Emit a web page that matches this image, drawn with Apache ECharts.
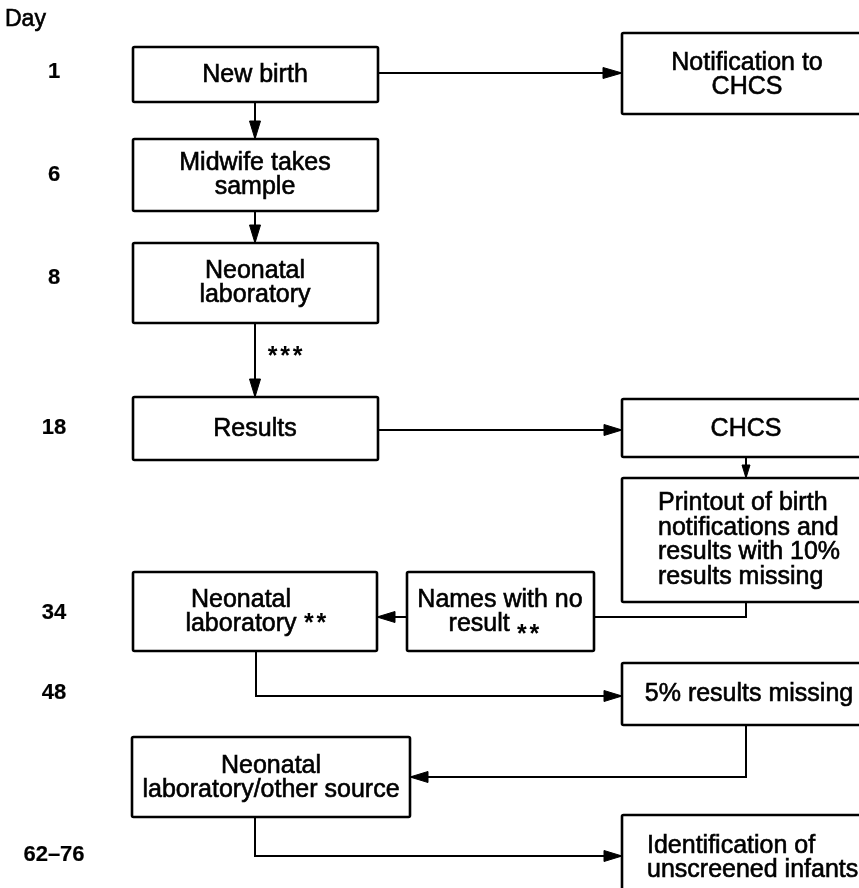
<!DOCTYPE html>
<html><head><meta charset="utf-8">
<script src="https://cdn.jsdelivr.net/npm/echarts@6/dist/echarts.min.js"></script>
<style>html,body{margin:0;padding:0;background:#fff}#c{width:859px;height:888px}</style>
</head><body><div id="c"></div>
<script>
// Day column
const dayLabels = ['Day', '1', '6', '8', '18', '34', '48', '62–76'];
const dayLabelY = [20, 72, 175, 278, 428, 613, 693, 855];

// Boxes: label text and rectangle [x0, y0, x1, y1] in diagram units
const boxLabels = [
  'New birth',
  'Notification to\nCHCS',
  'Midwife takes\nsample',
  'Neonatal\nlaboratory',
  'Results',
  'CHCS',
  'Printout of birth\nnotifications and\nresults with 10%\nresults missing',
  'Neonatal\nlaboratory',
  'Names with no\nresult      ',
  '5% results missing',
  'Neonatal\nlaboratory/other source',
  'Identification of\nunscreened infants'
];
const boxRects = [
  [133, 47, 378, 102],
  [622, 33, 872, 114],
  [133, 139, 378, 211],
  [133, 243, 378, 323],
  [133, 397, 378, 460],
  [622, 399, 872, 457],
  [622, 478, 872, 602],
  [133, 572, 377, 651],
  [407, 572, 594, 651],
  [622, 663, 872, 725],
  [132, 737, 410, 817],
  [622, 815, 872, 905]
];
// text anchor per box: [x, y, align]
const boxTextAnchor = [
  [255, 75, 'center'],
  [747, 75, 'center'],
  [255, 175, 'center'],
  [255, 283, 'center'],
  [255, 429, 'center'],
  [746, 429, 'center'],
  [658, 540, 'left'],
  [241, 612, 'center'],
  [500, 612, 'center'],
  [749, 694, 'center'],
  [271, 778, 'center'],
  [647, 858, 'left']
];

// Connectors (polylines, arrow at the last point)
const connectors = [
  [[378, 73], [622, 73]],
  [[255, 102], [255, 139]],
  [[255, 211], [255, 243]],
  [[255, 323], [255, 397]],
  [[378, 430], [622, 430]],
  [[746, 457], [746, 478]],
  [[746, 602], [746, 617], [594, 617]],
  [[407, 617], [377, 617]],
  [[256, 651], [256, 696], [622, 696]],
  [[746, 725], [746, 777], [410, 777]],
  [[255, 817], [255, 856], [622, 856]]
];
const arrowSize = [[19, 11], [18, 11], [18, 11], [18, 11], [18, 11], [13, 8], [0, 0], [18, 11], [18, 11], [18, 11], [18, 11]];

// Star annotations (centre of the group of stars)
const noteText = ['***', '**', '**'];
const notePos = [[285, 357], [315, 624], [528, 635]];

const FONT = '"Liberation Sans", Arial, sans-serif';
const chart = echarts.init(document.getElementById('c'));

chart.setOption({
  backgroundColor: '#fff',
  animation: false,
  grid: {left: 0, right: 0, top: 0, bottom: 0},
  xAxis: {type: 'value', min: 0, max: 859, show: false},
  yAxis: {type: 'value', min: 0, max: 888, inverse: true, show: false},
  series: [
    {
      type: 'custom', name: 'connectors',
      data: connectors.map((c, i) => [i]),
      renderItem: function (params, api) {
        const i = api.value(0);
        const pts = connectors[i].map(p => api.coord(p));
        const children = [{
          type: 'polyline',
          shape: {points: pts},
          style: {stroke: '#000', lineWidth: 2, fill: null}
        }];
        const [len, wid] = arrowSize[i];
        if (len > 0) {
          const a = pts[pts.length - 2], b = pts[pts.length - 1];
          const dx = b[0] - a[0], dy = b[1] - a[1];
          const d = Math.hypot(dx, dy);
          const ux = dx / d, uy = dy / d;
          const bx = b[0] - ux * len, by = b[1] - uy * len;
          children.push({
            type: 'polygon',
            shape: {points: [b, [bx - uy * wid / 2, by + ux * wid / 2], [bx + uy * wid / 2, by - ux * wid / 2]]},
            style: {fill: '#000', stroke: '#000', lineWidth: 1}
          });
        }
        return {type: 'group', children: children};
      },
      z: 1
    },
    {
      type: 'custom', name: 'boxes',
      data: boxRects.map((r, i) => [r[0], r[1], r[2], r[3], i]),
      renderItem: function (params, api) {
        const p0 = api.coord([api.value(0), api.value(1)]);
        const p1 = api.coord([api.value(2), api.value(3)]);
        const i = api.value(4);
        const t = boxTextAnchor[i];
        const tp = api.coord([t[0], t[1]]);
        return {
          type: 'group',
          children: [
            {
              type: 'rect',
              shape: {x: p0[0], y: p0[1], width: p1[0] - p0[0], height: p1[1] - p0[1], r: 1.5},
              style: {fill: '#fff', stroke: '#000', lineWidth: 2.6}
            },
            {
              type: 'text',
              x: tp[0], y: tp[1],
              style: {
                text: boxLabels[i], fill: '#000',
                font: '25px ' + FONT,
                lineHeight: 24.5,
                stroke: '#000', lineWidth: 0.6,
                align: t[2], verticalAlign: 'middle'
              }
            }
          ]
        };
      },
      z: 2
    },
    {
      type: 'custom', name: 'days',
      data: dayLabels.map((d, i) => [i]),
      renderItem: function (params, api) {
        const i = api.value(0);
        const isHead = i === 0;
        const p = api.coord([isHead ? 5 : 54, dayLabelY[i]]);
        return {
          type: 'text', x: p[0], y: p[1],
          style: {
            text: dayLabels[i], fill: '#000',
            fontFamily: '"Liberation Sans", Arial, sans-serif',
            fontSize: isHead ? 23 : 22,
            fontWeight: isHead ? 'normal' : 'bold',
            stroke: '#000', lineWidth: isHead ? 0.6 : 0.2,
            align: isHead ? 'left' : 'center', verticalAlign: 'middle'
          }
        };
      },
      z: 3
    },
    {
      type: 'custom', name: 'notes',
      data: noteText.map((d, i) => [i]),
      renderItem: function (params, api) {
        const i = api.value(0);
        const p = api.coord(notePos[i]);
        const n = noteText[i].length;
        const step = 12.5;
        const children = [];
        for (let k = 0; k < n; k++) {
          children.push({
            type: 'text',
            x: p[0] + (k - (n - 1) / 2) * step, y: p[1],
            style: {
              text: noteText[i][k], fill: '#000',
              font: 'bold 25px ' + FONT,
              align: 'center', verticalAlign: 'middle'
            }
          });
        }
        return {type: 'group', children: children};
      },
      z: 3
    }
  ]
});
</script>
</body></html>
